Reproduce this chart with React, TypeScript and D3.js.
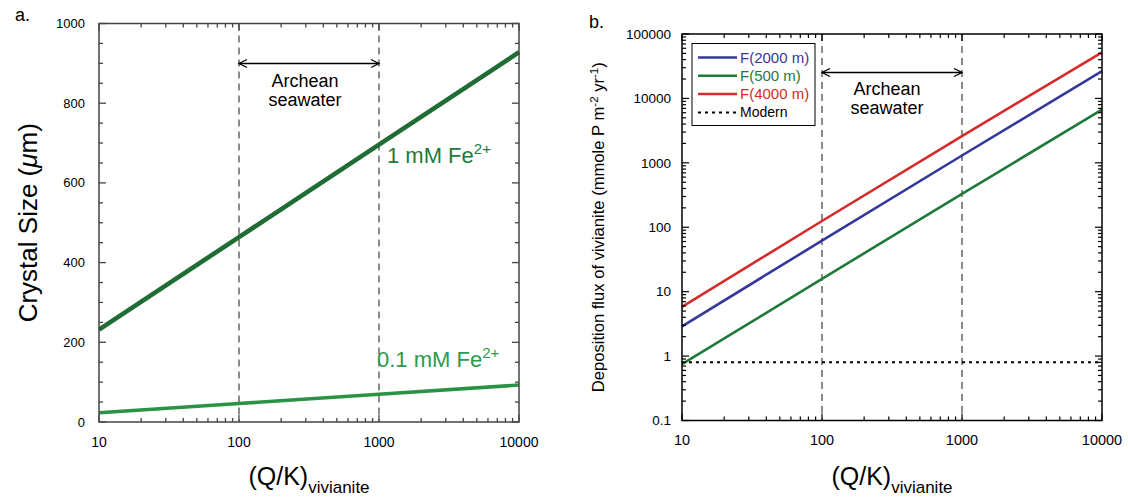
import React from 'react';
import * as d3 from 'd3';

// ---- data ----
const qkValues = [10, 100, 1000, 10000];
const size1mM = [232, 464, 696, 928];
const size01mM = [23.2, 46.4, 69.6, 92.8];
const flux2000 = [2.9, 62, 1300, 26500];
const flux500 = [0.75, 15.8, 330, 6700];
const flux4000 = [5.8, 125, 2600, 52000];
const modernFlux = 0.8;
const archeanRange = [100, 1000];
const xTickLabels = [10, 100, 1000, 10000];
const sizeTicks = [0, 200, 400, 600, 800, 1000];
const fluxTicks = [0.1, 1, 10, 100, 1000, 10000, 100000];
const legendNames = ['F(2000 m)', 'F(500 m)', 'F(4000 m)', 'Modern'];

const FONT = "'Liberation Sans', Arial, Helvetica, sans-serif";
const BLUE = '#34389a';
const GREEN_B = '#1f7a3a';
const RED = '#d52b2b';
const DARK_GREEN = '#1f6c35';
const LIGHT_GREEN = '#2a9245';

function logMinor(domain: number[]) {
  const out: number[] = [];
  for (let d = domain[0]; d < domain[1]; d *= 10) {
    for (let m = 2; m <= 9; m++) out.push(d * m);
  }
  return out;
}

function Arrow({ x1, x2, y }: { x1: number; x2: number; y: number }) {
  return (
    <g stroke="#000" strokeWidth={1.3} fill="none">
      <line x1={x1} x2={x2} y1={y} y2={y} />
      <path d={`M${x1 + 8},${y - 4} L${x1},${y} L${x1 + 8},${y + 4}`} />
      <path d={`M${x2 - 8},${y - 4} L${x2},${y} L${x2 - 8},${y + 4}`} />
    </g>
  );
}

export default function App() {
  // Panel a
  const xA = d3.scaleLog().domain([10, 10000]).range([99, 519]);
  const yA = d3.scaleLinear().domain([0, 1000]).range([422, 23.5]);
  // Panel b
  const xB = d3.scaleLog().domain([10, 10000]).range([682, 1102]);
  const yB = d3.scaleLog().domain([0.1, 100000]).range([420.5, 34]);

  const lineA = (vals: number[]) =>
    d3.line<number>().x((_, i) => xA(qkValues[i])).y((v) => yA(v))(vals) || '';
  const lineB = (vals: number[]) =>
    d3.line<number>().x((_, i) => xB(qkValues[i])).y((v) => yB(v))(vals) || '';

  const xMinor = logMinor([10, 10000]);
  const sizeMinor = d3.range(50, 1000, 50).filter((v) => v % 200 !== 0);
  const fluxMinor = logMinor([0.1, 100000]);

  const aCol = '#444';
  const [aL, aR] = xA.range();
  const [aB, aT] = yA.range();
  const [bL, bR] = xB.range();
  const [bB, bT] = yB.range();

  return (
    <div style={{ position: 'absolute', left: 0, top: 0 }}>
      <svg width={1128} height={497} style={{ display: 'block', fontFamily: FONT }}>
        <rect width={1128} height={497} fill="#fff" />

        {/* ================= Panel a ================= */}
        <text x={15} y={21} fontSize={18}>a.</text>

        {/* dashed Archean lines */}
        {archeanRange.map((v) => (
          <line key={'da' + v} x1={xA(v)} x2={xA(v)} y1={aT} y2={aB} stroke="#666" strokeWidth={1.5} strokeDasharray="7,5" />
        ))}

        {/* data lines */}
        <path d={lineA(size01mM)} fill="none" stroke={LIGHT_GREEN} strokeWidth={3.6} />
        <path d={lineA(size1mM)} fill="none" stroke={DARK_GREEN} strokeWidth={4.6} />

        {/* frame */}
        <rect x={aL} y={aT} width={aR - aL} height={aB - aT} fill="none" stroke={aCol} strokeWidth={1.5} />
        <g stroke={aCol} strokeWidth={1.3}>
          {xTickLabels.map((v) => (
            <g key={'axt' + v}>
              <line x1={xA(v)} x2={xA(v)} y1={aB} y2={aB - 7} />
              <line x1={xA(v)} x2={xA(v)} y1={aT} y2={aT + 7} />
            </g>
          ))}
          {xMinor.map((v) => (
            <g key={'axm' + v}>
              <line x1={xA(v)} x2={xA(v)} y1={aB} y2={aB - 4} />
              <line x1={xA(v)} x2={xA(v)} y1={aT} y2={aT + 4} />
            </g>
          ))}
          {sizeTicks.map((v) => (
            <g key={'ayt' + v}>
              <line x1={aL} x2={aL + 7} y1={yA(v)} y2={yA(v)} />
              <line x1={aR} x2={aR - 7} y1={yA(v)} y2={yA(v)} />
            </g>
          ))}
          {sizeMinor.map((v) => (
            <g key={'aym' + v}>
              <line x1={aL} x2={aL + 4} y1={yA(v)} y2={yA(v)} />
              <line x1={aR} x2={aR - 4} y1={yA(v)} y2={yA(v)} />
            </g>
          ))}
        </g>

        {/* tick labels */}
        {sizeTicks.map((v) => (
          <text key={'ayl' + v} x={85} y={yA(v)} dy="0.35em" textAnchor="end" fontSize={13}>{v}</text>
        ))}
        {xTickLabels.map((v) => (
          <text key={'axl' + v} x={xA(v)} y={aB + 25} textAnchor="middle" fontSize={14}>{v}</text>
        ))}

        {/* axis titles */}
        <text transform={`translate(37,${(aT + aB) / 2}) rotate(-90)`} textAnchor="middle" fontSize={26}>
          Crystal Size (<tspan fontStyle="italic">μ</tspan>m)
        </text>
        <text x={(aL + aR) / 2} y={485} textAnchor="middle" fontSize={25}>
          (Q/K)<tspan fontSize={17} dy={8}>vivianite</tspan>
        </text>

        {/* annotations */}
        <Arrow x1={xA(archeanRange[0])} x2={xA(archeanRange[1])} y={63.5} />
        <text x={(xA(archeanRange[0]) + xA(archeanRange[1])) / 2 - 4} y={87} textAnchor="middle" fontSize={18}>Archean</text>
        <text x={(xA(archeanRange[0]) + xA(archeanRange[1])) / 2 - 4} y={106} textAnchor="middle" fontSize={18}>seawater</text>

        <text x={387} y={163} fontSize={22} fill="#237a3b">
          1 mM Fe<tspan fontSize={15} dy={-9}>2+</tspan>
        </text>
        <text x={377} y={367} fontSize={22} fill="#2e9a48">
          0.1 mM Fe<tspan fontSize={15} dy={-9}>2+</tspan>
        </text>

        {/* ================= Panel b ================= */}
        <text x={589} y={28} fontSize={18}>b.</text>

        {archeanRange.map((v) => (
          <line key={'db' + v} x1={xB(v)} x2={xB(v)} y1={bT} y2={bB} stroke="#666" strokeWidth={1.5} strokeDasharray="7,5" />
        ))}

        <line x1={bL} x2={bR} y1={yB(modernFlux)} y2={yB(modernFlux)} stroke="#000" strokeWidth={2} strokeDasharray="3,4" />
        <path d={lineB(flux500)} fill="none" stroke={GREEN_B} strokeWidth={2.6} />
        <path d={lineB(flux2000)} fill="none" stroke={BLUE} strokeWidth={2.6} />
        <path d={lineB(flux4000)} fill="none" stroke={RED} strokeWidth={2.6} />

        <rect x={bL} y={bT} width={bR - bL} height={bB - bT} fill="none" stroke="#000" strokeWidth={1.5} />
        <g stroke="#000" strokeWidth={1.2}>
          {xTickLabels.map((v) => (
            <g key={'bxt' + v}>
              <line x1={xB(v)} x2={xB(v)} y1={bB} y2={bB - 7} />
              <line x1={xB(v)} x2={xB(v)} y1={bT} y2={bT + 7} />
            </g>
          ))}
          {xMinor.map((v) => (
            <g key={'bxm' + v}>
              <line x1={xB(v)} x2={xB(v)} y1={bB} y2={bB - 4} />
              <line x1={xB(v)} x2={xB(v)} y1={bT} y2={bT + 4} />
            </g>
          ))}
          {fluxTicks.map((v) => (
            <g key={'byt' + v}>
              <line x1={bL} x2={bL + 7} y1={yB(v)} y2={yB(v)} />
              <line x1={bR} x2={bR - 7} y1={yB(v)} y2={yB(v)} />
            </g>
          ))}
          {fluxMinor.map((v) => (
            <g key={'bym' + v}>
              <line x1={bL} x2={bL + 4} y1={yB(v)} y2={yB(v)} />
              <line x1={bR} x2={bR - 4} y1={yB(v)} y2={yB(v)} />
            </g>
          ))}
        </g>

        {fluxTicks.map((v) => (
          <text key={'byl' + v} x={671} y={yB(v)} dy="0.35em" textAnchor="end" fontSize={13.5}>{v}</text>
        ))}
        {xTickLabels.map((v) => (
          <text key={'bxl' + v} x={xB(v)} y={bB + 24} textAnchor="middle" fontSize={14.5}>{v}</text>
        ))}

        <text transform={`translate(604,${(bT + bB) / 2}) rotate(-90)`} textAnchor="middle" fontSize={16.6}>
          Deposition flux of vivianite (mmole P m<tspan fontSize={11.5} dy={-6}>-2</tspan>
          <tspan dy={6}> yr</tspan><tspan fontSize={11.5} dy={-6}>-1</tspan><tspan dy={6}>)</tspan>
        </text>
        <text x={(bL + bR) / 2} y={485} textAnchor="middle" fontSize={25}>
          (Q/K)<tspan fontSize={17} dy={8}>vivianite</tspan>
        </text>

        {/* legend */}
        <rect x={692} y={43.5} width={123} height={82} fill="#fff" stroke="#000" strokeWidth={1} />
        {legendNames.map((name, i) => {
          const y = 57.5 + i * 18.3;
          const col = [BLUE, GREEN_B, RED, '#000'][i];
          return (
            <g key={name}>
              <line x1={698} x2={737} y1={y} y2={y} stroke={col} strokeWidth={i === 3 ? 2 : 2.5} strokeDasharray={i === 3 ? '3,4' : undefined} />
              <text x={740} y={y} dy="0.35em" fontSize={i === 3 ? 14 : 15} fill={col}>{name}</text>
            </g>
          );
        })}

        <Arrow x1={xB(archeanRange[0])} x2={xB(archeanRange[1])} y={72.5} />
        <text x={(xB(archeanRange[0]) + xB(archeanRange[1])) / 2 - 5} y={95} textAnchor="middle" fontSize={18}>Archean</text>
        <text x={(xB(archeanRange[0]) + xB(archeanRange[1])) / 2 - 5} y={114} textAnchor="middle" fontSize={18}>seawater</text>
      </svg>
    </div>
  );
}
